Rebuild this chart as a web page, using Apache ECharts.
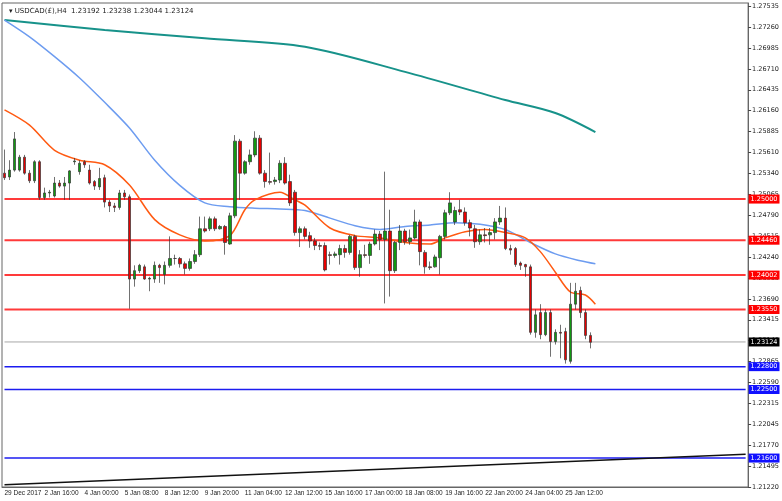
<!DOCTYPE html>
<html><head><meta charset="utf-8">
<script src="https://cdn.jsdelivr.net/npm/echarts@6/dist/echarts.min.js"></script>
<style>html,body{margin:0;padding:0;background:#fff}#c{width:782px;height:501px}</style>
</head><body><div id="c"></div>
<script>
const openP=[1.2534,1.2529,1.2538,1.2538,1.2555,1.2534,1.2524,1.2549,1.2502,1.2508,1.2504,1.2521,1.2517,1.2521,1.2549,1.2536,1.2549,1.2538,1.2523,1.2516,1.2528,1.2496,1.2491,1.2489,1.2508,1.2503,1.2395,1.2406,1.2411,1.2395,1.2395,1.2413,1.2401,1.2413,1.2422,1.2422,1.2415,1.2409,1.2418,1.2427,1.2461,1.2461,1.2474,1.2461,1.2464,1.2441,1.2478,1.2576,1.2534,1.2549,1.2558,1.2580,1.2534,1.2523,1.2523,1.2525,1.2547,1.2523,1.2509,1.2456,1.2461,1.2452,1.2445,1.2439,1.2439,1.2427,1.2426,1.2427,1.2435,1.2430,1.2451,1.2410,1.2427,1.2426,1.2441,1.2454,1.2447,1.2458,1.2406,1.2443,1.2458,1.2444,1.2449,1.2470,1.2430,1.2411,1.2411,1.2423,1.2451,1.2482,1.2470,1.2486,1.2483,1.2469,1.2461,1.2444,1.2453,1.2453,1.2456,1.2470,1.2475,1.2435,1.2435,1.2416,1.2414,1.2411,1.2325,1.2351,1.2322,1.2351,1.2313,1.2325,1.2326,1.2287,1.2362,1.2380,1.2351,1.2321];
const closeP=[1.2528,1.2538,1.2579,1.2555,1.2534,1.2524,1.2549,1.2502,1.2508,1.2509,1.2521,1.2517,1.2521,1.2537,1.2550,1.2547,1.2545,1.2521,1.2517,1.2527,1.2496,1.2491,1.2489,1.2508,1.2503,1.2395,1.2406,1.2413,1.2395,1.2396,1.2413,1.2410,1.2413,1.2422,1.2422,1.2415,1.2409,1.2418,1.2427,1.2461,1.2458,1.2474,1.2461,1.2464,1.2443,1.2478,1.2576,1.2534,1.2549,1.2558,1.2580,1.2534,1.2523,1.2522,1.2525,1.2547,1.2521,1.2495,1.2456,1.2461,1.2451,1.2445,1.2439,1.2438,1.2407,1.2426,1.2428,1.2435,1.2430,1.2451,1.2410,1.2427,1.2426,1.2441,1.2454,1.2447,1.2458,1.2406,1.2443,1.2458,1.2444,1.2449,1.2470,1.2431,1.2411,1.2410,1.2424,1.2451,1.2482,1.2495,1.2485,1.2483,1.2469,1.2462,1.2444,1.2453,1.2452,1.2456,1.2470,1.2475,1.2435,1.2433,1.2414,1.2413,1.2411,1.2325,1.2348,1.2322,1.2351,1.2313,1.2325,1.2324,1.2289,1.2362,1.2379,1.2351,1.2321,1.2312];
const highP=[1.2565,1.2551,1.2588,1.2558,1.2558,1.2538,1.2551,1.2551,1.2515,1.2512,1.2529,1.2525,1.2529,1.2538,1.2554,1.2551,1.2551,1.2545,1.2525,1.2541,1.2532,1.2499,1.2495,1.2512,1.2512,1.2506,1.2413,1.2415,1.2414,1.2398,1.2418,1.2415,1.2418,1.2451,1.2427,1.2424,1.2418,1.2422,1.2433,1.2477,1.2477,1.2477,1.2477,1.2466,1.2466,1.2482,1.2584,1.2579,1.2551,1.2565,1.2589,1.2584,1.2538,1.2561,1.2529,1.2551,1.2555,1.2532,1.2512,1.2464,1.2464,1.2457,1.2449,1.2443,1.2443,1.2431,1.2431,1.2440,1.2440,1.2453,1.2453,1.2433,1.2440,1.2444,1.2460,1.2458,1.2536,1.2486,1.2445,1.2466,1.2461,1.2460,1.2486,1.2473,1.2433,1.2418,1.2427,1.2453,1.2486,1.2509,1.2490,1.2499,1.2489,1.2473,1.2466,1.2460,1.2462,1.2462,1.2475,1.2491,1.2489,1.2440,1.2437,1.2418,1.2415,1.2414,1.2355,1.2362,1.2355,1.2355,1.2329,1.2335,1.2331,1.2390,1.2390,1.2385,1.2355,1.2325];
const lowP=[1.2525,1.2525,1.2536,1.2536,1.2532,1.2521,1.2521,1.2499,1.2499,1.2502,1.2502,1.2515,1.2499,1.2499,1.2545,1.2532,1.2541,1.2519,1.2512,1.2512,1.2489,1.2483,1.2483,1.2486,1.2499,1.2356,1.2385,1.2403,1.2394,1.2379,1.2390,1.2390,1.2388,1.2410,1.2414,1.2410,1.2401,1.2406,1.2415,1.2424,1.2456,1.2458,1.2458,1.2460,1.2427,1.2440,1.2475,1.2499,1.2532,1.2545,1.2555,1.2532,1.2515,1.2519,1.2519,1.2521,1.2519,1.2491,1.2452,1.2437,1.2447,1.2436,1.2433,1.2433,1.2405,1.2414,1.2423,1.2414,1.2423,1.2427,1.2407,1.2398,1.2423,1.2415,1.2439,1.2433,1.2363,1.2372,1.2403,1.2433,1.2440,1.2440,1.2447,1.2413,1.2402,1.2407,1.2410,1.2401,1.2447,1.2479,1.2466,1.2479,1.2465,1.2451,1.2436,1.2440,1.2443,1.2440,1.2447,1.2466,1.2433,1.2427,1.2411,1.2407,1.2398,1.2322,1.2318,1.2316,1.2320,1.2293,1.2309,1.2291,1.2284,1.2284,1.2355,1.2344,1.2316,1.2304];
// moving averages: [barIndex, value]
const maSlow=[[0,1.2735],[20,1.2722],[40,1.2711],[60,1.2700],[80,1.2667],[100,1.2630],[110,1.2613],[118,1.2588]];
const maMid=[[0,1.2735],[5,1.2713],[10,1.2687],[15,1.2659],[20,1.2627],[25,1.2593],[30,1.2551],[35,1.2518],[40,1.2495],[45,1.2490],[50,1.2488],[55,1.2487],[60,1.2485],[65,1.2475],[70,1.2465],[75,1.2460],[80,1.2464],[85,1.2466],[90,1.2469],[95,1.2467],[100,1.2460],[105,1.2443],[110,1.2428],[115,1.2419],[118,1.2415]];
const maFast=[[0,1.2617],[5,1.2597],[10,1.2564],[15,1.2551],[20,1.2545],[25,1.2518],[30,1.2473],[35,1.2453],[40,1.2445],[45,1.2452],[48,1.2486],[50,1.2499],[55,1.2509],[58,1.2499],[60,1.2492],[65,1.2462],[70,1.2452],[75,1.2449],[80,1.2443],[85,1.2441],[88,1.2449],[92,1.2457],[96,1.2460],[100,1.2456],[104,1.2449],[107,1.2431],[110,1.2404],[113,1.2378],[116,1.2374],[118,1.2362]];
const trendLine=[[0,1.2125],[148,1.2165]];
const redLevels=[1.25000,1.24460,1.24002,1.23550];
const blueLevels=[1.22800,1.22500,1.21600];
const lastPrice=1.23124;
const dateLabels=['29 Dec 2017','2 Jan 16:00','4 Jan 00:00','5 Jan 08:00','8 Jan 12:00','9 Jan 20:00','11 Jan 04:00','12 Jan 12:00','15 Jan 16:00','17 Jan 00:00','18 Jan 08:00','19 Jan 16:00','22 Jan 20:00','24 Jan 04:00','25 Jan 12:00'];
const priceTicks=[1.27535,1.27260,1.26985,1.26710,1.26435,1.26160,1.25885,1.25610,1.25340,1.25065,1.24790,1.24515,1.24240,1.23965,1.23690,1.23415,1.23140,1.22865,1.22590,1.22315,1.22045,1.21770,1.21495,1.21220];
const TOTAL=149;
const cats=[];for(let i=0;i<TOTAL;i++){cats.push(i%8===0&&dateLabels[i/8]?dateLabels[i/8]:'b'+i);}
const candles=openP.map((o,i)=>[o,closeP[i],lowP[i],highP[i]]);
function toSeries(pts){const a=new Array(TOTAL).fill(null);pts.forEach(p=>a[p[0]]=p[1]);return a;}
function levelSeries(v,lineColor,bg,w){
 return {type:'line',data:[[0,v],[TOTAL-1,v]],showSymbol:false,silent:true,z:1,
  lineStyle:{color:lineColor,width:w},
  endLabel:{show:true,formatter:()=>v.toFixed(5),color:'#fff',backgroundColor:bg,fontSize:6.5,padding:[1,2],distance:3}};
}
const showLab=(i)=>i%8===0&&(i/8)<dateLabels.length;
const series=[
  {type:'candlestick',data:candles,barWidth:3,z:3,
   itemStyle:{color:'#129912',color0:'#e80000',borderColor:'#333',borderColor0:'#333',borderWidth:0.7}},
  {type:'line',data:toSeries(maSlow),connectNulls:true,showSymbol:false,smooth:0.3,z:2,lineStyle:{color:'#17928a',width:2}},
  {type:'line',data:toSeries(maMid),connectNulls:true,showSymbol:false,smooth:0.3,z:2,lineStyle:{color:'#6d9cf0',width:1.5}},
  {type:'line',data:toSeries(maFast),connectNulls:true,showSymbol:false,smooth:0.3,z:2,lineStyle:{color:'#ff5a12',width:1.5}},
  {type:'line',data:trendLine,showSymbol:false,z:2,lineStyle:{color:'#111',width:1.5}}
];
redLevels.forEach(v=>series.push(levelSeries(v,'#ff3a3a','#ff0000',2)));
blueLevels.forEach(v=>series.push(levelSeries(v,'#1c1cf0','#1010ff',1.5)));
series.push(levelSeries(lastPrice,'#a8a8a8','#000',1));
const chart=echarts.init(document.getElementById('c'));
chart.setOption({
 animation:false,backgroundColor:'#fff',
 textStyle:{fontFamily:'DejaVu Sans'},
 title:{text:'▾ USDCAD(£),H4  1.23192 1.23238 1.23044 1.23124',left:4,top:3,textStyle:{fontSize:7,fontWeight:'normal',color:'#222'}},
 grid:{left:2,right:26,top:3,bottom:14,show:true,borderColor:'#666',borderWidth:1},
 xAxis:{type:'category',data:cats,boundaryGap:true,
  axisLine:{lineStyle:{color:'#666'}},
  axisTick:{interval:showLab,length:3,lineStyle:{color:'#444'}},
  axisLabel:{interval:0,hideOverlap:false,fontSize:6.5,fontFamily:'Liberation Sans',color:'#222',margin:3,align:'left',formatter:v=>v.startsWith('b')?'':v},
  splitLine:{show:false}},
 yAxis:{type:'value',position:'right',min:1.2122,max:1.27574,
  axisLine:{show:true,lineStyle:{color:'#666'}},
  axisTick:{show:true,length:3,customValues:priceTicks,lineStyle:{color:'#444'}},
  axisLabel:{customValues:priceTicks,fontSize:6.5,color:'#222',margin:4,formatter:v=>v.toFixed(5)},
  splitLine:{show:false}},
 series:series
});
</script></body></html>
